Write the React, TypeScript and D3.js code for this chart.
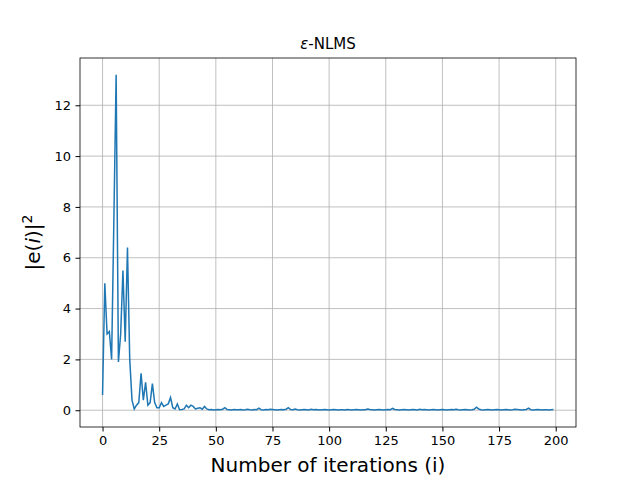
import React, { useEffect, useRef } from 'react';
import * as d3 from 'd3';

const errorHead: number[] = [
  0.6, 5.0, 3.0, 3.1, 2.0, 7.5, 13.2, 1.9, 3.0, 5.5, 2.7, 6.4, 2.0, 0.4, 0.05, 0.2, 0.3, 1.45, 0.4, 1.1,
  0.2, 0.3, 1.05, 0.3, 0.1, 0.1, 0.3, 0.15, 0.2, 0.25, 0.5, 0.1, 0.05, 0.25, 0.02, 0.03, 0.05, 0.2, 0.1, 0.2,
  0.15, 0.05, 0.08, 0.1, 0.04, 0.15, 0.05, 0.02, 0.03, 0.01, 0.02, 0.03, 0.02, 0.04, 0.1, 0.03, 0.02, 0.01, 0.03, 0.02,
];
const errorTail: number[] = [
  0.02, 0.03, 0.01, 0.02, 0.04, 0.02, 0.01, 0.03, 0.02, 0.08, 0.02, 0.01, 0.03, 0.02, 0.04, 0.03, 0.02, 0.01, 0.02, 0.03,
  0.02, 0.04, 0.1, 0.03, 0.02, 0.05, 0.02, 0.01, 0.02, 0.03, 0.02, 0.01, 0.04, 0.02, 0.03, 0.02, 0.01, 0.02, 0.03, 0.02,
  0.01, 0.02, 0.03, 0.02, 0.01, 0.02, 0.02, 0.01, 0.03, 0.02, 0.01, 0.02, 0.03, 0.02, 0.01, 0.02, 0.02, 0.05, 0.03, 0.02,
  0.01, 0.02, 0.03, 0.02, 0.01, 0.02, 0.03, 0.02, 0.07, 0.03, 0.02, 0.01, 0.02, 0.03, 0.02, 0.01, 0.02, 0.03, 0.02, 0.01,
  0.04, 0.02, 0.03, 0.02, 0.01, 0.02, 0.03, 0.02, 0.01, 0.02, 0.03, 0.02, 0.01, 0.02, 0.03, 0.02, 0.04, 0.02, 0.01, 0.02,
  0.03, 0.02, 0.01, 0.02, 0.04, 0.12, 0.05, 0.02, 0.01, 0.02, 0.03, 0.02, 0.01, 0.02, 0.03, 0.02, 0.01, 0.02, 0.03, 0.02,
  0.01, 0.02, 0.04, 0.03, 0.02, 0.01, 0.02, 0.03, 0.08, 0.02, 0.01, 0.02, 0.03, 0.02, 0.01, 0.02, 0.02, 0.01, 0.02, 0.03,
];
const errorValues = [...errorHead, ...errorTail];
const xTicks = [0, 25, 50, 75, 100, 125, 150, 175, 200];
const yTicks = [0, 2, 4, 6, 8, 10, 12];

const App: React.FC = () => {
  const svgRef = useRef<SVGSVGElement>(null);

  useEffect(() => {
    if (!svgRef.current) return;
    const root = d3.select(svgRef.current);
    root.selectAll('*').remove();

    const margin = { top: 58, right: 64, bottom: 53, left: 80 };
    const W = 640, H = 480;
    const width = W - margin.left - margin.right;
    const height = H - margin.top - margin.bottom;

    const g = root.append('g').attr('transform', `translate(${margin.left},${margin.top})`);

    const x = d3.scaleLinear().domain([-9.95, 208.95]).range([0, width]);
    const y = d3.scaleLinear().domain([-0.66, 13.86]).range([height, 0]);

    // grid
    g.append('g').selectAll('line').data(xTicks).enter().append('line')
      .attr('x1', (d) => x(d)).attr('x2', (d) => x(d)).attr('y1', 0).attr('y2', height)
      .attr('stroke', '#b0b0b0').attr('stroke-width', 0.8);
    g.append('g').selectAll('line').data(yTicks).enter().append('line')
      .attr('y1', (d) => y(d)).attr('y2', (d) => y(d)).attr('x1', 0).attr('x2', width)
      .attr('stroke', '#b0b0b0').attr('stroke-width', 0.8);

    const line = d3.line<number>().x((_, i) => x(i)).y((d) => y(d));
    g.append('path').datum(errorValues).attr('d', line)
      .attr('fill', 'none').attr('stroke', '#1f77b4').attr('stroke-width', 1.5);

    const xAxis = g.append('g').attr('transform', `translate(0,${height})`)
      .call(d3.axisBottom(x).tickValues(xTicks).tickSize(4.5).tickPadding(4.5));
    const yAxis = g.append('g')
      .call(d3.axisLeft(y).tickValues(yTicks).tickSize(4.5).tickPadding(4.5));
    [xAxis, yAxis].forEach((a) => {
      a.selectAll('text').style('font-family', 'DejaVu Sans').style('font-size', '13px').attr('fill', '#000');
      a.select('.domain').remove();
    });

    g.append('rect').attr('width', width).attr('height', height)
      .attr('fill', 'none').attr('stroke', '#000').attr('stroke-width', 0.8);

    g.append('text').attr('x', width / 2).attr('y', -9).attr('text-anchor', 'middle')
      .style('font-family', 'DejaVu Sans').style('font-size', '15px')
      .html('<tspan font-style="italic">ε</tspan>-NLMS');

    g.append('text').attr('x', width / 2).attr('y', height + 45).attr('text-anchor', 'middle')
      .style('font-family', 'DejaVu Sans').style('font-size', '20px')
      .text('Number of iterations (i)');

    g.append('text').attr('transform', `translate(-40,${height / 2}) rotate(-90)`)
      .attr('text-anchor', 'middle')
      .style('font-family', 'DejaVu Sans').style('font-size', '20px')
      .html('|e(<tspan font-style="italic">i</tspan>)|<tspan dy="-8" font-size="14px">2</tspan>');
  }, []);

  return <svg ref={svgRef} width={640} height={480} style={{ display: 'block', position: 'absolute', left: 0, top: 0 }} />;
};

export default App;
